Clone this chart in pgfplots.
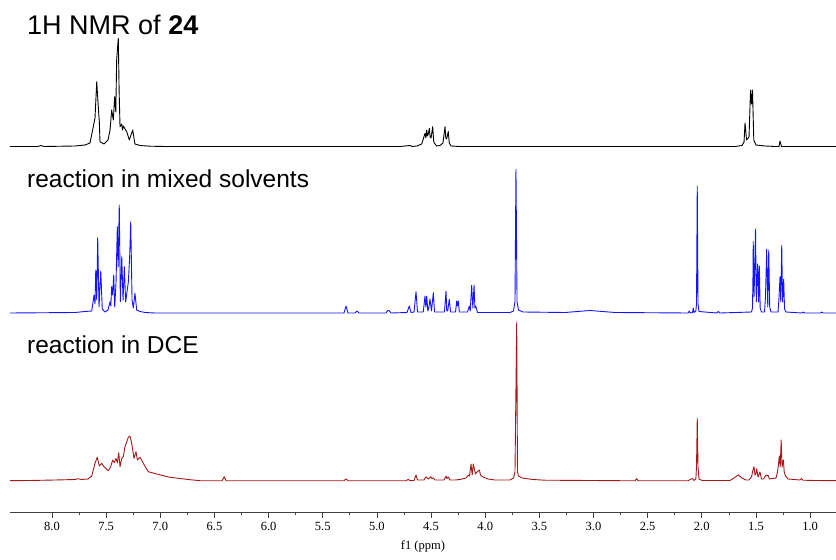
\documentclass[border=0pt]{standalone}
\usepackage{fontspec}
\setmainfont{Liberation Sans}
\newfontfamily\tickfont{Liberation Serif}
\usepackage{pgfplots}
\pgfplotsset{compat=1.18}
\definecolor{nmrblue}{RGB}{20,20,255}
\definecolor{nmrred}{RGB}{165,25,25}
\begin{document}
\begin{tikzpicture}[x=1pt,y=1pt]
\begin{axis}[
  at={(0,0)}, anchor=south west,
  scale only axis, width=826pt, height=512pt,
  xmin=0.761, xmax=8.388, ymin=0, ymax=512, x dir=reverse,
  axis x line=bottom, axis y line=none,
  x axis line style={-, black!75, line width=0.7pt},
  xtick={1,1.5,2,2.5,3,3.5,4,4.5,5,5.5,6,6.5,7,7.5,8},
  minor x tick num=1,
  tick align=outside, major tick length=6pt, minor tick length=3pt,
  tick style={black!75, line width=0.7pt},
  /pgf/number format/assume math mode=true,
  xticklabel style={font=\tickfont\fontsize{12.5}{14}\selectfont, yshift=-1pt, /pgf/number format/.cd, fixed, fixed zerofill, precision=1},
  xlabel={f1 (ppm)}, xlabel style={font=\tickfont\fontsize{12.5}{14}\selectfont, yshift=-3pt},
  clip=false,
  every axis plot/.append style={line width=0.9pt, line join=round},
]
% top: 1H NMR of 24
\addplot[black] coordinates {
(8.388,365.5)(8.129,365.5)(8.102,366.5)(8.074,365.5)(7.788,366)(7.695,367)(7.649,369)
(7.603,394)(7.587,430.3)(7.572,404)(7.563,390)(7.557,370.3)(7.520,368)(7.483,372)
(7.464,382)(7.449,402)(7.434,392)(7.421,415.3)(7.411,400)(7.403,452)(7.388,473.7)
(7.380,420)(7.372,385.3)(7.356,388)(7.349,382)(7.342,386)(7.310,380.3)(7.286,372)
(7.255,382)(7.234,368)(7.187,366.5)(7.095,365.8)(6.957,365.5)
(4.787,365.5)(4.694,366.5)(4.676,365.5)(4.630,366)(4.586,368)
(4.556,378.7)(4.548,374)(4.540,382)(4.533,376)(4.525,378)(4.516,383.7)(4.508,375)
(4.500,374)(4.485,385.3)(4.475,370)(4.450,366)(4.417,366.5)(4.390,369)
(4.371,385.3)(4.364,374)(4.356,373)(4.341,380.5)(4.332,369)(4.316,366)(4.233,365.5)
(1.693,365.5)(1.629,366.5)(1.610,370)(1.601,389)(1.587,372)(1.564,375)
(1.550,422)(1.541,408)(1.532,422)(1.520,372)(1.500,367)(1.416,366)(1.324,365.5)
(1.287,365.5)(1.278,371)(1.264,365.5)(0.761,365.5)
};
% middle: reaction in mixed solvents
\addplot[nmrblue] coordinates {
(8.388,199)(7.788,199.5)(7.695,200.5)(7.633,201)(7.612,217)(7.603,208)(7.596,242)
(7.587,212)(7.578,274.3)(7.566,205)(7.550,241)(7.536,203)(7.511,200)(7.483,202)
(7.464,210.3)(7.457,206)(7.449,225.3)(7.440,217)(7.430,237)(7.421,205)(7.409,229)
(7.397,285.3)(7.389,245)(7.379,307)(7.369,210.3)(7.356,255.3)(7.344,212)(7.332,245.3)
(7.320,210)(7.295,230.3)(7.283,255.3)(7.273,290.3)(7.261,212)(7.249,204)(7.234,218.7)
(7.218,202)(7.187,200.5)(7.141,199.5)(7.049,199)
(5.304,199)(5.285,206)(5.267,199)(5.202,199)(5.184,201)(5.165,199)
(4.916,199)(4.900,201.5)(4.888,201.5)(4.870,199)
(4.722,199.5)(4.701,206)(4.685,199.5)(4.657,200)(4.639,220.3)(4.625,200)
(4.572,200)(4.556,216)(4.548,205)(4.540,216)(4.530,201)(4.521,204)(4.510,213)
(4.496,201)(4.479,219.3)(4.468,200)
(4.376,200)(4.362,221)(4.355,201)(4.346,201)(4.332,212.7)(4.320,200)
(4.274,200)(4.263,211)(4.256,206)(4.248,211)(4.239,200)
(4.163,200)(4.147,206)(4.138,201)(4.125,226.7)(4.114,204)(4.103,226.7)(4.095,204)
(4.088,206)(4.071,199.5)
(3.771,199.5)(3.739,201)(3.725,210)(3.716,342.7)(3.706,210)(3.693,202)(3.651,200)
(3.263,199.5)(3.032,201.5)(2.801,199.5)
(2.127,199)(2.115,201)(2.106,199)(2.086,199.5)(2.079,204)(2.072,199.5)
(2.055,201)(2.049,208)(2.042,326)(2.035,208)(2.026,200.5)
(1.864,199)(1.848,200.5)(1.832,199)
(1.541,200)(1.532,204)(1.527,240)(1.525,270.3)(1.518,215)(1.512,240)(1.504,283)
(1.497,210)(1.488,240)(1.484,248)(1.476,210)(1.469,246)(1.461,204)(1.449,200)
(1.421,200)(1.412,215)(1.401,262.7)(1.391,205)(1.382,262)(1.373,205)(1.361,200)
(1.296,200)(1.287,215)(1.278,235.3)(1.271,210)(1.262,266.7)(1.254,210)(1.244,232.7)
(1.236,203)(1.223,200)
(1.075,199)(1.063,200)(1.052,199)(0.904,199)(0.893,200)(0.881,199)(0.761,199)
};
% bottom: reaction in DCE
\addplot[nmrred] coordinates {
(8.388,31.3)(8.203,31.5)(7.972,32)(7.788,32.5)(7.757,33.3)(7.732,32.5)(7.668,33)
(7.633,36)(7.603,48.7)(7.582,54.7)(7.563,46)(7.541,48.7)(7.520,45.3)(7.480,41.3)
(7.458,45.3)(7.440,52)(7.425,49.3)(7.409,53.7)(7.397,49)(7.384,59.3)(7.372,45.3)
(7.356,53.7)(7.342,55.3)(7.326,65.3)(7.310,70.3)(7.295,74.7)(7.280,76)(7.264,68.7)
(7.243,53.7)(7.224,60.3)(7.212,52)(7.187,54.7)(7.157,48.7)(7.111,40.3)(7.033,38)
(6.910,34.7)(6.726,32.3)(6.633,31.3)
(6.430,31.3)(6.409,35.3)(6.393,31.3)
(5.304,31.3)(5.285,33)(5.267,31.3)
(4.731,31.3)(4.710,32.6)(4.694,31.3)(4.657,31.5)(4.639,37)(4.625,32)
(4.565,32)(4.547,35.3)(4.525,33)(4.503,35.3)(4.491,33.5)(4.479,34)(4.464,32)
(4.380,32)(4.362,36)(4.353,33.5)(4.341,35)(4.325,32)
(4.279,32)(4.233,32.5)(4.177,34)(4.156,37)(4.145,36)(4.131,48)(4.120,37)(4.110,48)
(4.102,44)(4.090,38)(4.076,40)(4.054,42)(4.043,37)(4.020,35)(3.974,33)(3.909,32)
(3.771,32)(3.739,34)(3.725,40)(3.709,190)(3.702,40)(3.693,36)(3.660,34)(3.559,32.5)
(3.448,31.8)(3.032,31.5)(2.755,31.3)
(2.617,31.3)(2.601,33.3)(2.589,31.3)
(2.127,31.3)(2.086,33.5)(2.072,31.5)
(2.055,33)(2.049,45)(2.042,93.7)(2.035,45)(2.026,33)(1.998,31.5)
(1.740,31.5)(1.703,34)(1.663,37)(1.629,34)(1.592,32)(1.564,32)
(1.541,35)(1.530,41)(1.518,45.3)(1.509,37)(1.501,38)(1.493,43.3)(1.481,35)(1.463,40)
(1.449,33)(1.430,33)(1.407,37)(1.398,36)(1.389,37)(1.375,33)
(1.315,34)(1.301,40)(1.294,46)(1.284,56)(1.276,45)(1.267,72)(1.259,45)(1.247,52)
(1.239,40)(1.227,36)(1.204,33)
(1.093,32)(1.079,33.5)(1.066,31.8)(0.955,31.5)(0.761,31.3)
};
\node[anchor=base west, inner sep=0, font=\fontsize{27}{31}\selectfont] at (axis cs:8.231,477) {1H NMR of \textbf{24}};
\node[anchor=base west, inner sep=0, font=\fontsize{24.5}{28}\selectfont] at (axis cs:8.231,324) {reaction in mixed solvents};
\node[anchor=base west, inner sep=0, font=\fontsize{24.5}{28}\selectfont] at (axis cs:8.231,158.7) {reaction in DCE};
\end{axis}
\pgfresetboundingbox
\path (-10,-48) rectangle (826,512);
\end{tikzpicture}
\end{document}
